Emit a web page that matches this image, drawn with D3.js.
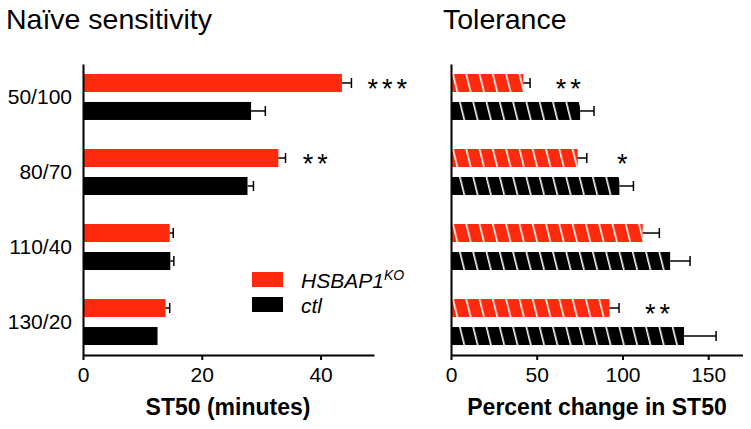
<!DOCTYPE html>
<html>
<head>
<meta charset="utf-8">
<script src="https://cdn.jsdelivr.net/npm/d3@7"></script>
<style>
  body { margin: 0; background: #fff; }
  text { font-family: "Liberation Sans", Arial, sans-serif; fill: #000; }
</style>
</head>
<body>
<div id="chart"></div>
<script>
// data
const categories = ["50/100", "80/70", "110/40", "130/20"];
const groups = ["ko", "ctl"];

const st50Ko = [43.6, 32.9, 14.6, 13.9];
const st50KoErr = [1.6, 1.2, 0.6, 0.7];
const st50Ctl = [28.3, 27.7, 14.7, 12.55];
const st50CtlErr = [2.4, 1.0, 0.6, 0];

const pctKo = [42.2, 73.9, 111.8, 92.4];
const pctKoErr = [3.9, 5.3, 9.7, 5.6];
const pctCtl = [75.3, 98.2, 127.8, 135.9];
const pctCtlErr = [8.1, 8.2, 11.6, 18.7];

// significance marks (placed in data units of each panel)
const st50Sig = ["***", "**", "", ""];
const st50SigAt = [47.9, 37, 0, 0];
const pctSig = ["**", "*", "", "**"];
const pctSigAt = [61.1, 96.8, 0, 113.2];

const st50Ticks = [0, 20, 40];
const pctTicks = [0, 50, 100, 150];

const RED = "#ff2a0d";
const BLACK = "#000";

const W = 751, H = 429;
const svg = d3.select("#chart").append("svg").attr("width", W).attr("height", H);

const defs = svg.append("defs");
function hatch(id, color) {
  const p = defs.append("pattern")
    .attr("id", id)
    .attr("patternUnits", "userSpaceOnUse")
    .attr("width", 12.9)
    .attr("height", 20)
    .attr("patternTransform", "rotate(-14)");
  p.append("rect").attr("width", 12.9).attr("height", 20).attr("fill", color);
  p.append("rect").attr("x", 0).attr("width", 1.6).attr("height", 20).attr("fill", "#fff");
}
hatch("hatchRed", RED);
hatch("hatchBlack", BLACK);

const y = d3.scaleBand().domain(categories).range([64, 355])
  .paddingInner(0.387).paddingOuter(0.133);
const ySub = d3.scaleBand().domain(groups).range([0, y.bandwidth()])
  .paddingInner(0.357);

function panel(opts) {
  const x = d3.scaleLinear().domain(opts.domain).range(opts.range);
  const g = svg.append("g");
  const rows = categories.map((c, i) => ({
    c, i,
    bars: [
      { k: "ko", v: opts.ko[i], e: opts.koErr[i], fill: opts.koFill },
      { k: "ctl", v: opts.ctl[i], e: opts.ctlErr[i], fill: opts.ctlFill },
    ],
  }));

  const rg = g.selectAll(".row").data(rows).enter().append("g")
    .attr("transform", (d) => `translate(0,${y(d.c)})`);

  const bar = rg.selectAll(".bar").data((d) => d.bars).enter().append("g");
  bar.append("rect")
    .attr("x", x(0))
    .attr("y", (d) => ySub(d.k))
    .attr("width", (d) => x(d.v) - x(0))
    .attr("height", ySub.bandwidth())
    .attr("fill", (d) => d.fill);
  // one-sided error bars
  bar.filter((d) => d.e > 0).append("line")
    .attr("x1", (d) => x(d.v)).attr("x2", (d) => x(d.v + d.e))
    .attr("y1", (d) => ySub(d.k) + ySub.bandwidth() / 2)
    .attr("y2", (d) => ySub(d.k) + ySub.bandwidth() / 2)
    .attr("stroke", "#000").attr("stroke-width", 1.5);
  bar.filter((d) => d.e > 0).append("line")
    .attr("x1", (d) => x(d.v + d.e)).attr("x2", (d) => x(d.v + d.e))
    .attr("y1", (d) => ySub(d.k) + ySub.bandwidth() / 2 - 5)
    .attr("y2", (d) => ySub(d.k) + ySub.bandwidth() / 2 + 5)
    .attr("stroke", "#000").attr("stroke-width", 1.5);

  rg.filter((d) => opts.sig[d.i]).append("text")
    .attr("x", (d) => x(opts.sigAt[d.i]))
    .attr("y", ySub("ko") + ySub.bandwidth() / 2 + 15)
    .attr("font-size", 27)
    .attr("letter-spacing", 4)
    .text((d) => opts.sig[d.i]);

  const xa = g.append("g")
    .attr("transform", `translate(0,355)`)
    .call(d3.axisBottom(x).tickValues(opts.ticks).tickSize(5).tickSizeOuter(0).tickPadding(7));
  xa.select(".domain").attr("stroke-width", 2);
  xa.selectAll(".tick line").attr("stroke-width", 2);
  xa.selectAll(".tick text").attr("font-size", 21).attr("font-family", "Liberation Sans, Arial, sans-serif");

  const ya = g.append("g")
    .attr("transform", `translate(${x(0)},0)`)
    .call(d3.axisLeft(y).tickSize(0).tickSizeOuter(0).tickPadding(11)
      .tickFormat(opts.labels ? (d) => d : () => ""));
  ya.select(".domain").attr("stroke-width", 2);
  ya.selectAll(".tick text").attr("font-size", 21).attr("font-family", "Liberation Sans, Arial, sans-serif");

  g.append("text")
    .attr("x", opts.titleX).attr("y", 29)
    .attr("font-size", 28.5)
    .text(opts.title);

  g.append("text")
    .attr("x", opts.xTitleX).attr("y", 415)
    .attr("text-anchor", "middle")
    .attr("font-size", 23).attr("font-weight", "bold")
    .text(opts.xTitle);
}

panel({
  domain: [0, 49], range: [83, 374],
  ko: st50Ko, koErr: st50KoErr, ctl: st50Ctl, ctlErr: st50CtlErr,
  koFill: RED, ctlFill: BLACK,
  sig: st50Sig, sigAt: st50SigAt, ticks: st50Ticks, labels: true,
  title: "Naïve sensitivity", titleX: 6,
  xTitle: "ST50 (minutes)", xTitleX: 228,
});

panel({
  domain: [0, 170], range: [451, 742.5],
  ko: pctKo, koErr: pctKoErr, ctl: pctCtl, ctlErr: pctCtlErr,
  koFill: "url(#hatchRed)", ctlFill: "url(#hatchBlack)",
  sig: pctSig, sigAt: pctSigAt, ticks: pctTicks, labels: false,
  title: "Tolerance", titleX: 443,
  xTitle: "Percent change in ST50", xTitleX: 597,
});

// legend
const legend = svg.append("g").attr("transform", "translate(252,272)");
legend.append("rect").attr("width", 31).attr("height", 15).attr("fill", RED);
legend.append("rect").attr("y", 25).attr("width", 31).attr("height", 15).attr("fill", BLACK);
const t1 = legend.append("text").attr("x", 49).attr("y", 16).attr("font-size", 21).attr("font-style", "italic");
t1.append("tspan").text("HSBAP1");
t1.append("tspan").attr("dy", -8).attr("font-size", 14).text("KO");
legend.append("text").attr("x", 49).attr("y", 41).attr("font-size", 21).attr("font-style", "italic").text("ctl");
</script>
</body>
</html>
